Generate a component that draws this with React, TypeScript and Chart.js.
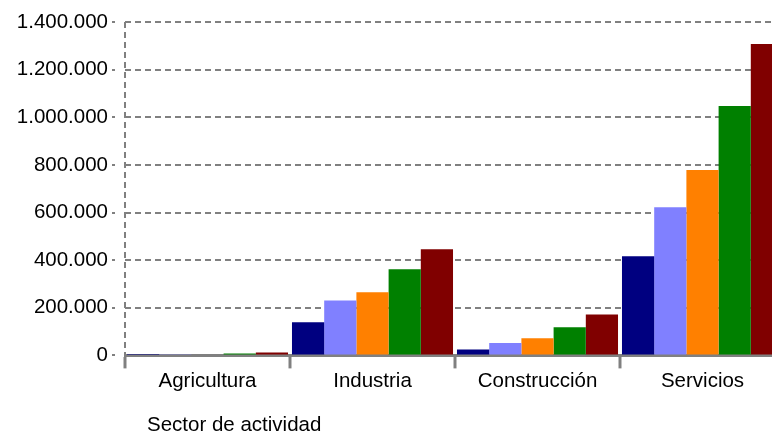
import React, { useEffect, useRef } from "react";
import { Chart, registerables } from "chart.js";

Chart.register(...registerables);

const categories = ["Agricultura", "Industria", "Construcción", "Servicios"];
const seriesNames = ["Serie 1", "Serie 2", "Serie 3", "Serie 4", "Serie 5"];
const serie1 = [1500, 139000, 25000, 416000];
const serie2 = [3000, 231000, 52000, 622000];
const serie3 = [4000, 265000, 72000, 778000];
const serie4 = [8000, 362000, 118000, 1047000];
const serie5 = [12000, 446000, 172000, 1308000];
const seriesColors = ["#000080", "#8080ff", "#ff8000", "#008000", "#800000"];
const yMax = 1400000;
const yStep = 200000;
const axisTitle = "Sector de actividad";

const FONT = "'Liberation Sans', Arial, sans-serif";
const GRID = "#808080";

function fmt(v: number): string {
  return String(Math.round(v)).replace(/\B(?=(\d{3})+(?!\d))/g, ".");
}

export default function App() {
  const ref = useRef<HTMLCanvasElement | null>(null);
  useEffect(() => {
    if (!ref.current) return;
    const all = [serie1, serie2, serie3, serie4, serie5];
    const titlePlugin = {
      id: "axisTitleLeft",
      afterDraw(chart: any) {
        const c = chart.ctx;
        c.save();
        c.font = `20.5px ${FONT}`;
        c.fillStyle = "#000";
        c.textAlign = "left";
        c.textBaseline = "alphabetic";
        c.fillText(axisTitle, chart.chartArea.left + 22, 431);
        c.restore();
      },
    };
    const chart = new Chart(ref.current, {
      type: "bar",
      data: {
        labels: categories,
        datasets: all.map((d, i) => ({
          label: seriesNames[i],
          data: d,
          backgroundColor: seriesColors[i],
          borderWidth: 0,
          categoryPercentage: 0.976,
          barPercentage: 1,
        })),
      },
      options: {
        animation: false,
        responsive: true,
        maintainAspectRatio: false,
        layout: { padding: { left: 0, right: 15, top: 22, bottom: 38 } },
        plugins: { legend: { display: false }, tooltip: { enabled: false } },
        scales: {
          x: {
            grid: {
              display: true,
              drawOnChartArea: true,
              color: (ctx: any) => (ctx.index === 0 ? GRID : "rgba(0,0,0,0)"),
              lineWidth: 2,
              tickColor: GRID,
              tickWidth: 3,
              tickLength: 13,
            },
            border: { display: true, color: GRID, width: 3, dash: [6, 4] },
            ticks: {
              color: "#000",
              font: { family: FONT, size: 20.5 },
              padding: 1,
              maxRotation: 0,
            },
          },
          y: {
            min: 0,
            max: yMax,
            afterFit: (scale: any) => {
              scale.width = 125;
            },
            grid: {
              color: GRID,
              lineWidth: 2,
              tickLength: 13,
              tickColor: GRID,
              tickWidth: 2,
              tickBorderDash: [3, 30],
            },
            border: { display: false, dash: [6, 4] },
            ticks: {
              stepSize: yStep,
              color: "#000",
              font: { family: FONT, size: 20.5 },
              padding: 4,
              callback: (v: any) => fmt(Number(v)),
            },
          },
        },
      },
      plugins: [titlePlugin],
    });
    return () => chart.destroy();
  }, []);
  return (
    <div style={{ position: "fixed", left: 0, top: 0, width: 772, height: 433, overflow: "hidden", background: "#fff" }}>
      <div style={{ position: "relative", width: 800, height: 433 }}>
        <canvas ref={ref} />
      </div>
    </div>
  );
}
